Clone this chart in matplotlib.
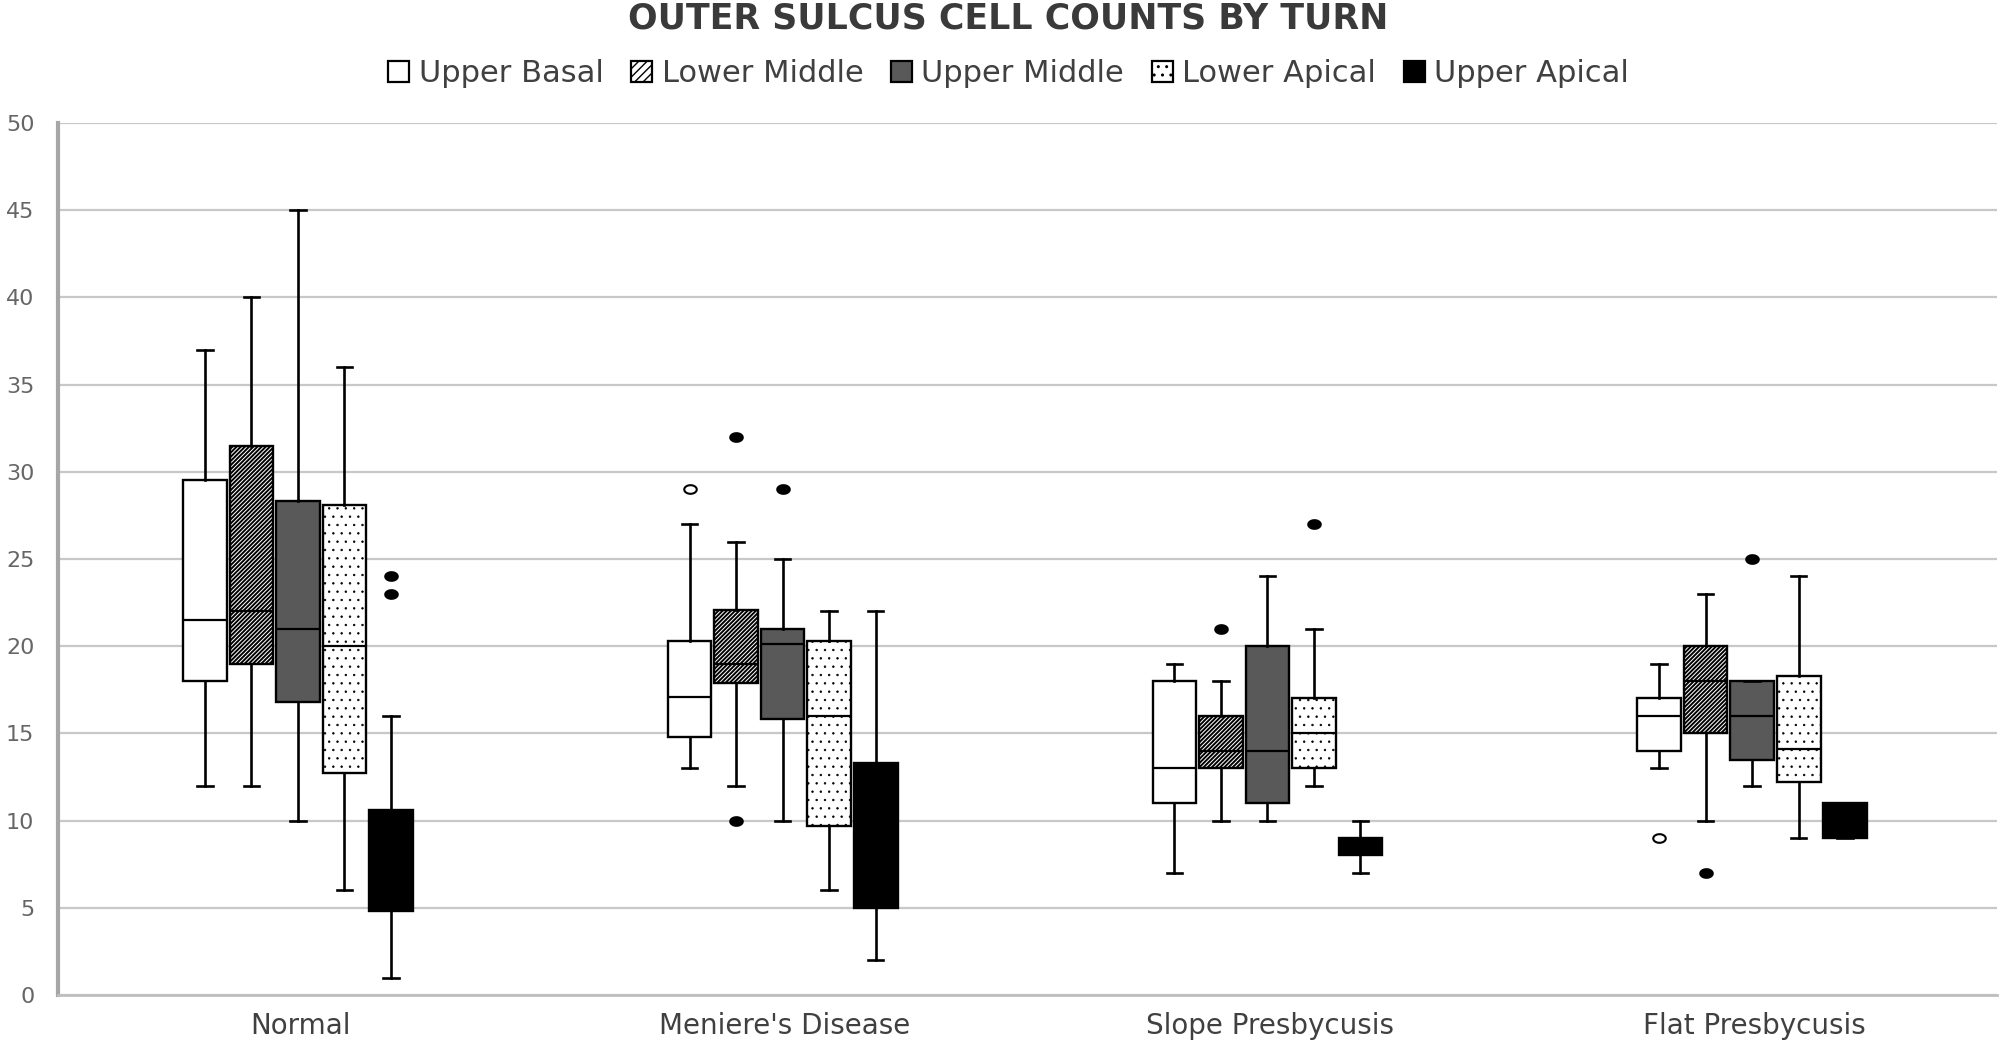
import numpy as np
import matplotlib
matplotlib.use("Agg")
import matplotlib.pyplot as plt
from matplotlib.patches import Patch
from matplotlib.path import Path

categories = ["Normal", "Meniere's Disease", "Slope Presbycusis", "Flat Presbycusis"]
series = ["Upper Basal", "Lower Middle", "Upper Middle", "Lower Apical", "Upper Apical"]
y_ticks = [0, 5, 10, 15, 20, 25, 30, 35, 40, 45, 50]

# Upper Basal
ub_low = [12, 13, 7, 13]
ub_q1 = [18, 14.8, 11, 14]
ub_med = [21.5, 17.1, 13, 16]
ub_q3 = [29.5, 20.3, 18, 17]
ub_high = [37, 27, 19, 19]
ub_out = [[], [29], [], [9]]

# Lower Middle
lm_low = [12, 12, 10, 10]
lm_q1 = [19, 17.9, 13, 15]
lm_med = [22, 19, 14, 18]
lm_q3 = [31.5, 22.1, 16, 20]
lm_high = [40, 26, 18, 23]
lm_out = [[], [32, 10], [21], [7]]

# Upper Middle
um_low = [10, 10, 10, 12]
um_q1 = [16.8, 15.8, 11, 13.5]
um_med = [21, 20.1, 14, 16]
um_q3 = [28.3, 21, 20, 18]
um_high = [45, 25, 24, 18]
um_out = [[], [29], [], [25]]

# Lower Apical
la_low = [6, 6, 12, 9]
la_q1 = [12.7, 9.7, 13, 12.2]
la_med = [20, 16, 15, 14.1]
la_q3 = [28.1, 20.3, 17, 18.3]
la_high = [36, 22, 21, 24]
la_out = [[], [], [27], []]

# Upper Apical
ua_low = [1, 2, 7, 9]
ua_q1 = [4.8, 5, 8, 9]
ua_med = [8, 9, 8.5, 10]
ua_q3 = [10.6, 13.3, 9, 11]
ua_high = [16, 22, 10, 11]
ua_out = [[24, 23], [], [], []]

all_data = [
    (ub_low, ub_q1, ub_med, ub_q3, ub_high, ub_out),
    (lm_low, lm_q1, lm_med, lm_q3, lm_high, lm_out),
    (um_low, um_q1, um_med, um_q3, um_high, um_out),
    (la_low, la_q1, la_med, la_q3, la_high, la_out),
    (ua_low, ua_q1, ua_med, ua_q3, ua_high, ua_out),
]

face_colors = ["white", "white", "#595959", "white", "black"]
hatches = [None, "////////", None, "..", None]
hatch_lw = [1.0, 1.4, 1.0, 0.5, 1.0]
flier_faces = ["white", "black", "black", "black", "black"]
offsets = [-0.197, -0.101, -0.005, 0.091, 0.187]

theta = np.linspace(0, 2 * np.pi, 41)
ellipse = Path(np.column_stack([1.45 * np.cos(theta), np.sin(theta)]), closed=True)

plt.rcParams["font.family"] = ["DejaVu Sans"]

fig = plt.figure(figsize=(20.05, 10.5), dpi=100)
ax = fig.add_axes([0.0289, 0.0524, 0.9671, 0.8305])
ax.set_axisbelow(True)

x = np.arange(len(categories))
for i, (lo, q1, med, q3, hi, out) in enumerate(all_data):
    plt.rcParams["hatch.linewidth"] = hatch_lw[i]
    stats = []
    for j in range(len(categories)):
        stats.append(dict(whislo=lo[j], q1=q1[j], med=med[j], q3=q3[j],
                          whishi=hi[j], fliers=out[j], label=categories[j]))
    ax.bxp(stats, positions=x + offsets[i], widths=0.09, capwidths=0.032,
           patch_artist=True, manage_ticks=False, showfliers=True,
           boxprops=dict(facecolor=face_colors[i], edgecolor="black",
                         linewidth=1.7, hatch=hatches[i]),
           medianprops=dict(color="black", linewidth=1.6),
           whiskerprops=dict(color="black", linewidth=1.9),
           capprops=dict(color="black", linewidth=1.9),
           flierprops=dict(marker=ellipse, markerfacecolor=flier_faces[i],
                           markeredgecolor="black", markeredgewidth=1.5,
                           markersize=9, linestyle="none"))

ax.set_xlim(-0.5, len(categories) - 0.5)
ax.set_ylim(0, 50)
ax.set_yticks(y_ticks)
ax.set_xticks(x)
ax.set_xticklabels(categories, fontsize=20, color="#404040")
ax.tick_params(axis="x", length=0, pad=12)
ax.tick_params(axis="y", length=0, pad=17, labelsize=16, labelcolor="#666666")
ax.yaxis.grid(True, color="#c8c8c8", linewidth=1.6)
for s in ["top", "right"]:
    ax.spines[s].set_visible(False)
ax.spines["left"].set_color("#a6a6a6")
ax.spines["left"].set_linewidth(3)
ax.spines["bottom"].set_color("#bfbfbf")
ax.spines["bottom"].set_linewidth(2)

handles = []
for i in range(len(series)):
    plt.rcParams["hatch.linewidth"] = hatch_lw[i]
    handles.append(Patch(facecolor=face_colors[i], edgecolor="black", linewidth=1.6,
                         hatch=(None if hatches[i] is None else hatches[i][:4]),
                         label=series[i]))
fig.legend(handles=handles, loc="center", bbox_to_anchor=(0.503, 0.930), ncol=5,
           frameon=False, fontsize=22, handlelength=0.7, handleheight=0.7,
           handletextpad=0.3, columnspacing=0.9, labelcolor="#404040")

fig.text(0.503, 0.982, "OUTER SULCUS CELL COUNTS BY TURN", ha="center", va="center",
         fontsize=25, fontweight="bold", color="#3a3a3a")

fig.savefig("out.png", dpi=100)
